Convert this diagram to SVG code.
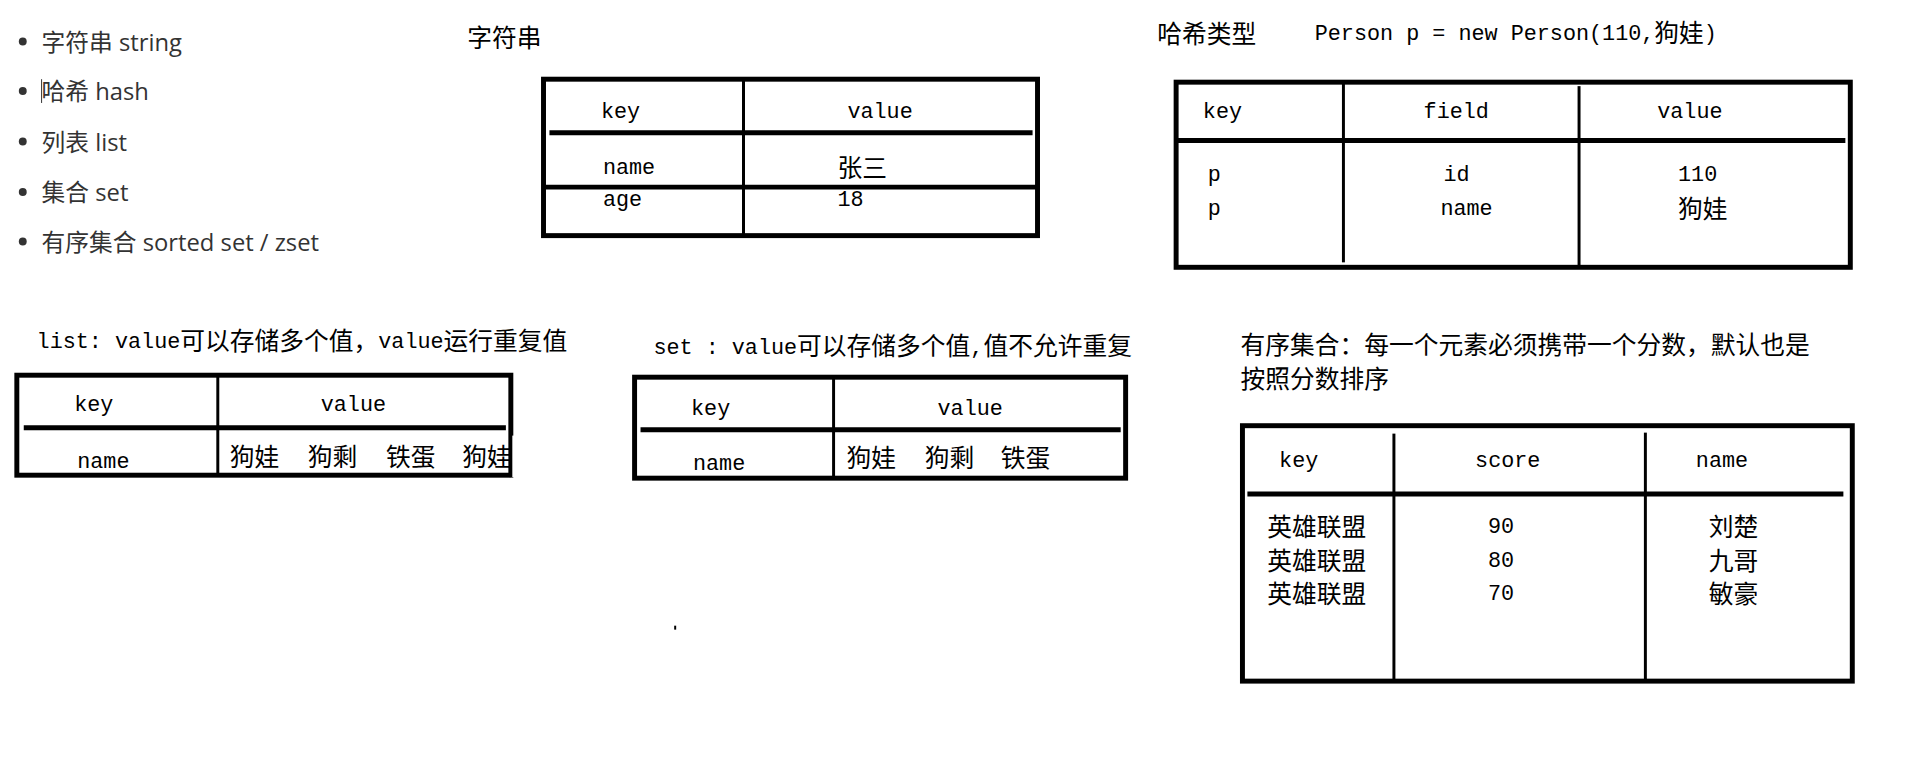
<svg xmlns="http://www.w3.org/2000/svg" width="1914" height="772" viewBox="0 0 1914 772">
<style>
.b{font-family:"Open Sans","Noto Sans CJK SC",sans-serif;font-size:24px;fill:#333;dominant-baseline:central}
.t{font-family:"Liberation Serif","Noto Sans CJK SC",serif;font-size:25px;fill:#000;dominant-baseline:central}
.m{font-family:"Liberation Mono","Noto Sans CJK SC",monospace;font-size:22px;fill:#000;dominant-baseline:central}
.c{font-size:25px}
.o{fill:none;stroke:#000;stroke-width:5}
.k{stroke:#000;stroke-width:5}
.n{stroke:#000;stroke-width:3}
</style>
<rect width="1914" height="772" fill="#fff"/>
<g transform="scale(0.99)">
<g id="bullets">
<circle cx="23" cy="42" r="4" fill="#333"/><text class="b" x="42" y="42">字符串 string</text>
<circle cx="23" cy="92" r="4" fill="#333"/><text class="b" x="42" y="92">哈希 hash</text>
<line x1="42" y1="80" x2="42" y2="104" stroke="#333" stroke-width="1"/>
<circle cx="23" cy="143" r="4" fill="#333"/><text class="b" x="42" y="143">列表 list</text>
<circle cx="23" cy="194" r="4" fill="#333"/><text class="b" x="42" y="194">集合 set</text>
<circle cx="23" cy="244" r="4" fill="#333"/><text class="b" x="42" y="244">有序集合 sorted set / zset</text>
</g>
<g transform="translate(0,2)">
<g id="string">
<text class="t" x="472" y="37">字符串</text>
<rect class="o" x="549" y="78" width="499" height="158"/>
<line class="n" x1="751" y1="78" x2="751" y2="236"/>
<line class="k" x1="555" y1="132" x2="1043" y2="132"/>
<line class="k" x1="549" y1="187" x2="1048" y2="187"/>
<text class="m" x="607" y="112">key</text><text class="m" x="856" y="112">value</text>
<text class="m" x="609" y="168">name</text><text class="t" x="846" y="168">张三</text>
<text class="m" x="609" y="201">age</text><text class="m" x="846" y="201">18</text>
</g>
<g id="hash">
<text class="t" x="1169" y="33">哈希类型</text>
<text class="m" x="1328" y="33">Person p = new Person(110,<tspan class="c">狗娃</tspan>)</text>
<rect class="o" x="1188" y="81" width="681" height="187"/>
<line class="n" x1="1357" y1="81" x2="1357" y2="263"/>
<line class="n" x1="1595" y1="85" x2="1595" y2="268"/>
<line class="k" x1="1188" y1="140" x2="1864" y2="140"/>
<text class="m" x="1215" y="112">key</text><text class="m" x="1438" y="112">field</text><text class="m" x="1674" y="112">value</text>
<text class="m" x="1220" y="175">p</text><text class="m" x="1458" y="175">id</text><text class="m" x="1695" y="175">110</text>
<text class="m" x="1220" y="210">p</text><text class="m" x="1455" y="210">name</text><text class="t" x="1695" y="210">狗娃</text>
</g>
<g id="list">
<text class="m" x="37" y="344">list: value<tspan class="c">可以存储多个值，</tspan>value<tspan class="c">运行重复值</tspan></text>
<rect class="o" x="17" y="377" width="499" height="101"/>
<line class="n" x1="220" y1="377" x2="220" y2="478"/>
<line class="k" x1="24" y1="430" x2="511" y2="430"/>
<text class="m" x="75" y="408">key</text><text class="m" x="324" y="408">value</text>
<text class="m" x="78" y="465">name</text>
<text class="t" x="232" y="460">狗娃</text><text class="t" x="311" y="460">狗剩</text><text class="t" x="390" y="460">铁蛋</text><text class="t" x="467" y="460">狗娃</text>
<rect x="516" y="438" width="12" height="42" fill="#fff"/>
<line class="n" x1="516" y1="377" x2="516" y2="480"/>
</g>
<g id="set">
<text class="m" x="660" y="350">set : value<tspan class="c">可以存储多个值</tspan>,<tspan class="c">值不允许重复</tspan></text>
<rect class="o" x="641" y="379" width="496" height="102"/>
<line class="n" x1="842" y1="379" x2="842" y2="481"/>
<line class="k" x1="647" y1="432" x2="1132" y2="432"/>
<text class="m" x="698" y="412">key</text><text class="m" x="947" y="412">value</text>
<text class="m" x="700" y="467">name</text>
<text class="t" x="855" y="461">狗娃</text><text class="t" x="934" y="461">狗剩</text><text class="t" x="1011" y="461">铁蛋</text>
</g>
<rect x="681" y="630" width="2" height="4" fill="#000"/>
<g id="zset">
<text class="t" x="1253" y="347">有序集合：每一个元素必须携带一个分数，默认也是</text>
<text class="t" x="1253" y="381">按照分数排序</text>
<rect class="o" x="1255" y="428" width="616" height="258"/>
<line class="n" x1="1408" y1="436" x2="1408" y2="686"/>
<line class="n" x1="1662" y1="435" x2="1662" y2="686"/>
<line class="k" x1="1260" y1="497" x2="1862" y2="497"/>
<text class="m" x="1292" y="464">key</text><text class="m" x="1490" y="464">score</text><text class="m" x="1713" y="464">name</text>
<text class="t" x="1280" y="531">英雄联盟</text><text class="m" x="1503" y="531">90</text><text class="t" x="1726" y="531">刘楚</text>
<text class="t" x="1280" y="565">英雄联盟</text><text class="m" x="1503" y="565">80</text><text class="t" x="1726" y="565">九哥</text>
<text class="t" x="1280" y="599">英雄联盟</text><text class="m" x="1503" y="599">70</text><text class="t" x="1726" y="599">敏豪</text>
</g>
</g>
</g>
</svg>
